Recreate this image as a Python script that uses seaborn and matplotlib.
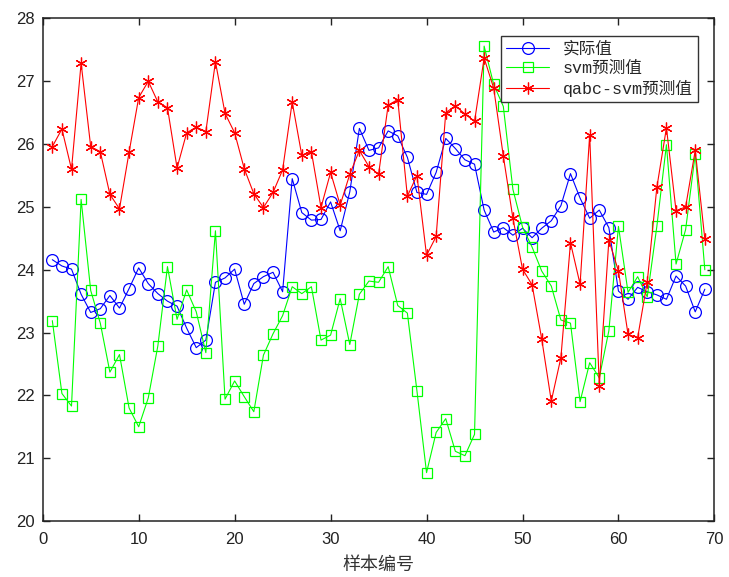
import numpy as np
import pandas as pd
import matplotlib
matplotlib.use("Agg")
import matplotlib.pyplot as plt
import seaborn as sns

sample_no = list(range(1, 70))

actual = [24.16, 24.06, 24.01, 23.61, 23.32, 23.38, 23.59, 23.39, 23.70, 24.03,
          23.78, 23.62, 23.50, 23.42, 23.07, 22.76, 22.88, 23.80, 23.87, 24.01,
          23.45, 23.78, 23.89, 23.96, 23.65, 25.45, 24.91, 24.79, 24.80, 25.08,
          24.62, 25.24, 26.25, 25.90, 25.94, 26.21, 26.13, 25.79, 25.23, 25.20,
          25.55, 26.09, 25.93, 25.75, 25.68, 24.95, 24.60, 24.67, 24.55, 24.66,
          24.51, 24.66, 24.78, 25.02, 25.53, 25.14, 24.82, 24.95, 24.67, 23.66,
          23.53, 23.72, 23.65, 23.60, 23.53, 23.90, 23.74, 23.33, 23.69]

svm_pred = [23.19, 22.03, 21.83, 25.12, 23.67, 23.15, 22.37, 22.65, 21.80, 21.50,
            21.96, 22.79, 24.05, 23.21, 23.68, 23.33, 22.68, 24.62, 21.94, 22.23,
            21.98, 21.74, 22.64, 22.98, 23.27, 23.73, 23.62, 23.73, 22.88, 22.96,
            23.54, 22.81, 23.61, 23.82, 23.80, 24.05, 23.43, 23.31, 22.07, 20.77,
            21.41, 21.63, 21.11, 21.04, 21.38, 27.56, 26.95, 26.60, 25.28, 24.68,
            24.36, 23.98, 23.74, 23.20, 23.15, 21.90, 22.52, 22.28, 23.03, 24.69,
            23.64, 23.89, 23.57, 24.69, 25.99, 24.09, 24.64, 25.84, 24.00]

qabc_svm_pred = [25.96, 26.24, 25.60, 27.29, 25.96, 25.88, 25.20, 24.97, 25.87, 26.74,
                 27.00, 26.67, 26.58, 25.62, 26.18, 26.27, 26.20, 27.31, 26.49, 26.18,
                 25.61, 25.21, 24.99, 25.23, 25.59, 26.67, 25.82, 25.88, 24.99, 25.55,
                 25.03, 25.52, 25.90, 25.64, 25.52, 26.62, 26.71, 25.17, 25.50, 24.23,
                 24.53, 26.50, 26.61, 26.48, 26.36, 27.37, 26.89, 25.81, 24.82, 24.01,
                 23.76, 22.90, 21.91, 22.60, 24.43, 23.77, 26.15, 22.15, 24.47, 23.98,
                 22.97, 22.92, 23.81, 25.31, 26.26, 24.94, 25.00, 25.90, 24.49]

series_labels = ["实际值", "svm预测值", "qabc-svm预测值"]

df = pd.DataFrame({
    "x": sample_no,
    series_labels[0]: actual,
    series_labels[1]: svm_pred,
    series_labels[2]: qabc_svm_pred,
})

sns.set_style("ticks")
plt.rcParams["font.family"] = ["Liberation Sans", "Noto Sans CJK SC", "DejaVu Sans"]
plt.rcParams["xtick.direction"] = "in"
plt.rcParams["ytick.direction"] = "in"

fig = plt.figure(figsize=(7.29, 5.77), dpi=100)
ax = fig.add_axes([0.0586, 0.097, 0.9214, 0.871])

styles = [
    (series_labels[0], "#0000ff", "o", 8.5),
    (series_labels[1], "#00ff00", "s", 7),
    (series_labels[2], "#ff0000", (6, 2, 0), 8.5),
]
for name, color, marker, ms in styles:
    sns.lineplot(data=df, x="x", y=name, ax=ax, color=color, label=name,
                 marker=marker, markersize=ms, markerfacecolor="none",
                 markeredgecolor=color, markeredgewidth=0.9, linewidth=0.8)

ax.set_xlim(0, 70)
ax.set_ylim(20, 28)
ax.set_xticks(range(0, 71, 10))
ax.set_yticks(range(20, 29))
ax.tick_params(axis="both", which="both", top=True, right=True, length=5,
               width=1, labelsize=12, colors="#222222")
ax.tick_params(axis="x", pad=8)
ax.tick_params(axis="y", pad=6)
for sp in ax.spines.values():
    sp.set_visible(True)
    sp.set_linewidth(1.1)
    sp.set_color("#222222")

ax.set_xlabel("样本编号", fontsize=13, family=["Noto Sans CJK SC"], color="#333333", labelpad=6)
ax.set_ylabel("")

leg = ax.legend(loc="upper right", bbox_to_anchor=(0.975, 0.965), fancybox=False,
                framealpha=1, edgecolor="#333333", borderaxespad=0, handlelength=2.6,
                prop={"family": ["Liberation Mono", "Noto Sans CJK SC"], "size": 12},
                labelspacing=0.25, borderpad=0.3)
leg.get_frame().set_linewidth(1)

fig.savefig("out.png", dpi=100)
